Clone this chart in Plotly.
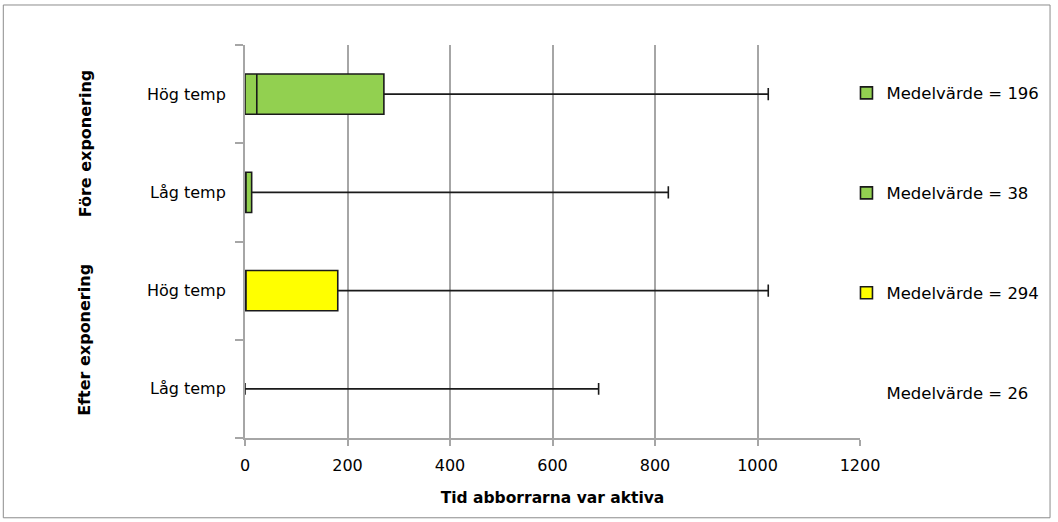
import plotly.graph_objects as go

# ---- data ----
groups = ["Före exponering", "Före exponering", "Efter exponering", "Efter exponering"]
conditions = ["Hög temp", "Låg temp", "Hög temp", "Låg temp"]
q1_vals = [0, 0, 0, 0]
median_vals = [23, 0, 0, 0]
q3_vals = [271, 13, 181, 0]
max_vals = [1021, 826, 1021, 690]
mean_vals = [196, 38, 294, 26]
x_ticks = [0, 200, 400, 600, 800, 1000, 1200]

# ---- styles ----
fill_colors = ["#92D050", "#92D050", "#FFFF00", "rgba(0,0,0,0)"]
show_symbol = [True, True, True, False]
box_widths = [0.41, 0.41, 0.41, 0.12]
whisker_widths = [0.3, 0.3, 0.3, 1.0]
FONT = "DejaVu Sans"

n = len(conditions)
positions = list(range(n))[::-1]  # top row first

fig = go.Figure()
for i in range(n):
    fig.add_trace(go.Box(
        y=[positions[i]],
        q1=[q1_vals[i]], median=[median_vals[i]], q3=[q3_vals[i]],
        lowerfence=[q1_vals[i]], upperfence=[max_vals[i]],
        orientation="h",
        width=box_widths[i],
        whiskerwidth=whisker_widths[i],
        fillcolor=fill_colors[i],
        line=dict(color="#1a1a1a", width=1.6),
        name=f"Medelvärde = {mean_vals[i]}",
        legendgroup=f"g{i}",
        showlegend=show_symbol[i],
        hoverinfo="skip",
        boxpoints=False,
    ))
    if not show_symbol[i]:
        fig.add_trace(go.Scatter(
            x=[None], y=[None], mode="none",
            name=f"Medelvärde = {mean_vals[i]}",
            legendgroup=f"g{i}", showlegend=True, hoverinfo="skip",
        ))

# group labels (rotated), centred on their rows
annotations = []
seen = []
for g in groups:
    if g not in seen:
        seen.append(g)
for g in seen:
    rows = [positions[i] for i in range(n) if groups[i] == g]
    annotations.append(dict(
        x=-0.260, xref="paper", y=sum(rows) / len(rows), yref="y",
        xanchor="center", yanchor="middle",
        text=f"<b>{g}</b>", textangle=-90, showarrow=False,
        font=dict(family=FONT, size=16, color="#000000"),
    ))

fig.update_layout(
    width=1058, height=522,
    margin=dict(l=245, r=198, t=45, b=84),
    paper_bgcolor="white", plot_bgcolor="white",
    font=dict(family=FONT, size=16, color="#000000"),
    showlegend=True,
    legend=dict(
        x=0.978, xanchor="left", y=0.922, yanchor="top",
        tracegroupgap=75.5, traceorder="grouped",
        font=dict(family=FONT, size=16.5, color="#000000"),
        itemwidth=30, bgcolor="rgba(0,0,0,0)",
    ),
    annotations=annotations,
    shapes=[dict(
        type="rect", xref="paper", yref="paper",
        x0=-0.393, x1=1.309, y0=-0.203, y1=1.1018,
        line=dict(color="#8c8c8c", width=1), fillcolor="rgba(0,0,0,0)",
        layer="below",
    )],
    xaxis=dict(
        range=[x_ticks[0], x_ticks[-1]],
        tickvals=x_ticks, ticktext=[str(t) for t in x_ticks],
        showgrid=True, gridcolor="#a6a6a6", gridwidth=1.5,
        showline=True, linecolor="#a6a6a6", linewidth=1.5,
        ticks="outside", ticklen=6, tickcolor="#a6a6a6", tickwidth=1.5,
        ticklabelstandoff=6,
        zeroline=False,
        tickfont=dict(family=FONT, size=16, color="#000000"),
        title=dict(text="<b>Tid abborrarna var aktiva</b>",
                   font=dict(family=FONT, size=15.5, color="#000000"), standoff=18),
    ),
    yaxis=dict(
        range=[-0.5, n - 0.5],
        tickvals=positions, ticktext=conditions,
        showgrid=False, zeroline=False,
        showline=True, linecolor="#a6a6a6", linewidth=2,
        ticks="", ticklabelstandoff=14,
        minor=dict(tick0=-0.5, dtick=1, ticks="outside", ticklen=8,
                   tickcolor="#a6a6a6", tickwidth=1.5, showgrid=False),
        layer="above traces",
        tickfont=dict(family=FONT, size=16, color="#000000"),
    ),
)

fig.write_html("out.html", config={"displayModeBar": False},
               post_script="document.body.style.margin='0';")
